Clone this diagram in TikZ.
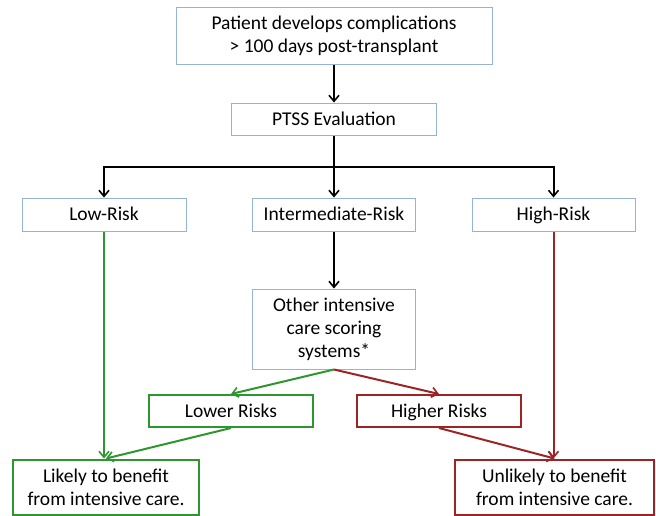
\documentclass[tikz,border=0pt]{standalone}
\usepackage{fontspec}
\setmainfont{Carlito}
\usetikzlibrary{arrows.meta,calc}
\definecolor{boxblue}{HTML}{95B3D7}
\definecolor{okgreen}{HTML}{2E962E}
\definecolor{badred}{HTML}{9C2424}
\begin{document}
\begin{tikzpicture}[x=1pt,y=-1pt,
  every node/.style={font=\fontsize{19.5}{23}\selectfont, align=center, inner sep=0pt},
  one/.style={text height=15.5pt, text depth=3pt},
  bluebox/.style={draw=boxblue, line width=1pt, fill=white},
  greenbox/.style={draw=okgreen, line width=2pt, fill=white},
  redbox/.style={draw=badred, line width=2pt, fill=white},
  tip/.style={-{Straight Barb[length=6pt,width=10pt,line width=1.6pt]}},
  blk/.style={draw=black, line width=2pt, tip},
  grn/.style={draw=okgreen, line width=2pt, tip},
  rd/.style={draw=badred, line width=2pt, tip}]
\useasboundingbox (0,0) rectangle (656,515);
\node[bluebox, minimum width=316pt, minimum height=57pt] (top) at (334,35.5) {Patient develops complications\\> 100 days post-transplant};
\node[bluebox, one, minimum width=205pt, minimum height=32pt] (ptss) at (334,119) {PTSS Evaluation};
\node[bluebox, one, minimum width=164pt, minimum height=33pt] (low) at (104,214.5) {Low-Risk};
\node[bluebox, one, minimum width=163pt, minimum height=33pt] (inter) at (334,214.5) {Intermediate-Risk};
\node[bluebox, one, minimum width=163pt, minimum height=33pt] (high) at (553.5,214.5) {High-Risk};
\node[bluebox, minimum width=163pt, minimum height=80pt] (other) at (334,329) {Other intensive\\care scoring\\systems*};
\node[greenbox, one, minimum width=164pt, minimum height=32pt] (lower) at (231,411) {Lower Risks};
\node[redbox, one, minimum width=164pt, minimum height=32pt] (higher) at (439,411) {Higher Risks};
\node[greenbox, minimum width=186pt, minimum height=55pt] (likely) at (106,487) {Likely to benefit\\from intensive care.};
\node[redbox, minimum width=199pt, minimum height=55pt] (unlikely) at (554.5,487) {Unlikely to benefit\\from intensive care.};
\coordinate (bar) at (334,167);
\draw[blk] (top.south) -- (ptss.north);
\draw[draw=black, line width=2pt] (ptss.south) -- (bar);
\draw[blk] (bar) -- (inter.north);
\draw[blk] (bar) -| (low.north);
\draw[blk] (bar) -| (high.north);
\draw[blk] (inter.south) -- (other.north);
\draw[grn] (other.south) -- (lower.north);
\draw[rd] (other.south) -- (higher.north);
\draw[grn] (low.south) -- (low.south |- likely.north);
\draw[grn] (lower.south) -- (likely.north);
\draw[rd] (high.south) -- (high.south |- unlikely.north);
\draw[rd] (higher.south) -- (unlikely.north);
\end{tikzpicture}
\end{document}
